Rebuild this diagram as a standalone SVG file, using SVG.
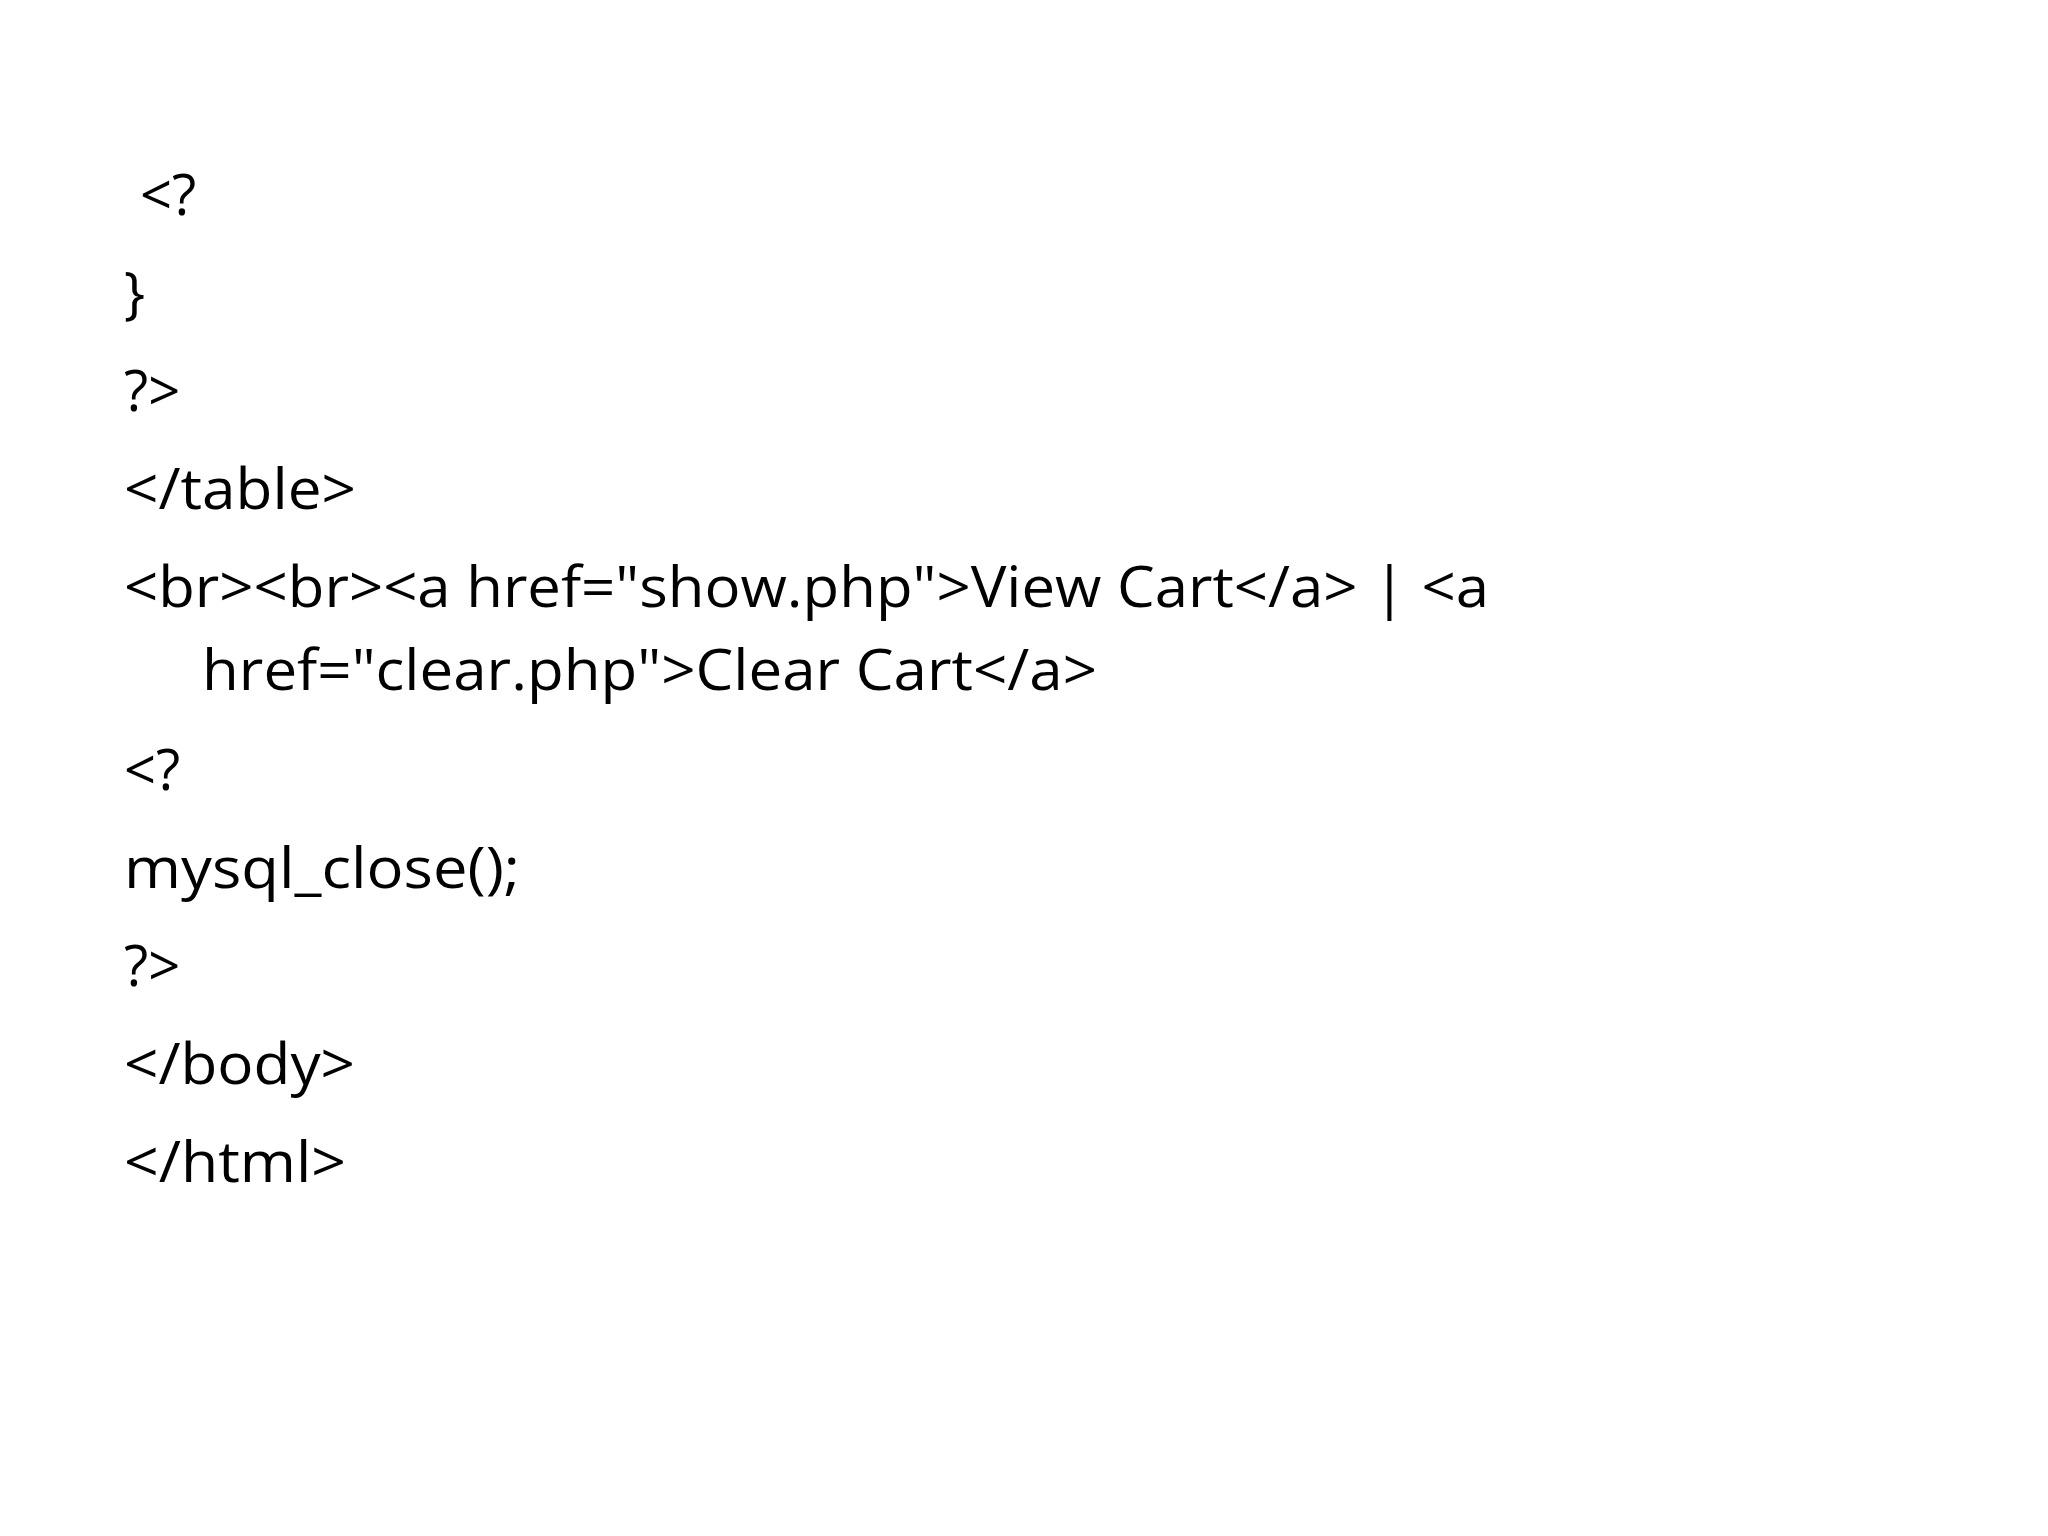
<svg xmlns="http://www.w3.org/2000/svg" width="2048" height="1536" viewBox="0 0 2048 1536">
<style>text{font-family:"Open Sans","Liberation Sans",sans-serif;font-size:56px;fill:#000}</style>
<rect width="2048" height="1536" fill="#fff"/>
<g id="code">
<text x="140" y="215">&lt;?</text>
<text x="124" y="313">}</text>
<text x="124" y="411">?&gt;</text>
<text x="124" y="509" textLength="232" lengthAdjust="spacingAndGlyphs">&lt;/table&gt;</text>
<text x="124" y="607" textLength="1365" lengthAdjust="spacingAndGlyphs">&lt;br&gt;&lt;br&gt;&lt;a href="show.php"&gt;View Cart&lt;/a&gt; | &lt;a</text>
<text x="202" y="690" textLength="895" lengthAdjust="spacingAndGlyphs">href="clear.php"&gt;Clear Cart&lt;/a&gt;</text>
<text x="124" y="790">&lt;?</text>
<text x="124" y="888" textLength="396" lengthAdjust="spacingAndGlyphs">mysql_close();</text>
<text x="124" y="986">?&gt;</text>
<text x="124" y="1084" textLength="231" lengthAdjust="spacingAndGlyphs">&lt;/body&gt;</text>
<text x="124" y="1182" textLength="222" lengthAdjust="spacingAndGlyphs">&lt;/html&gt;</text>
</g>
</svg>
